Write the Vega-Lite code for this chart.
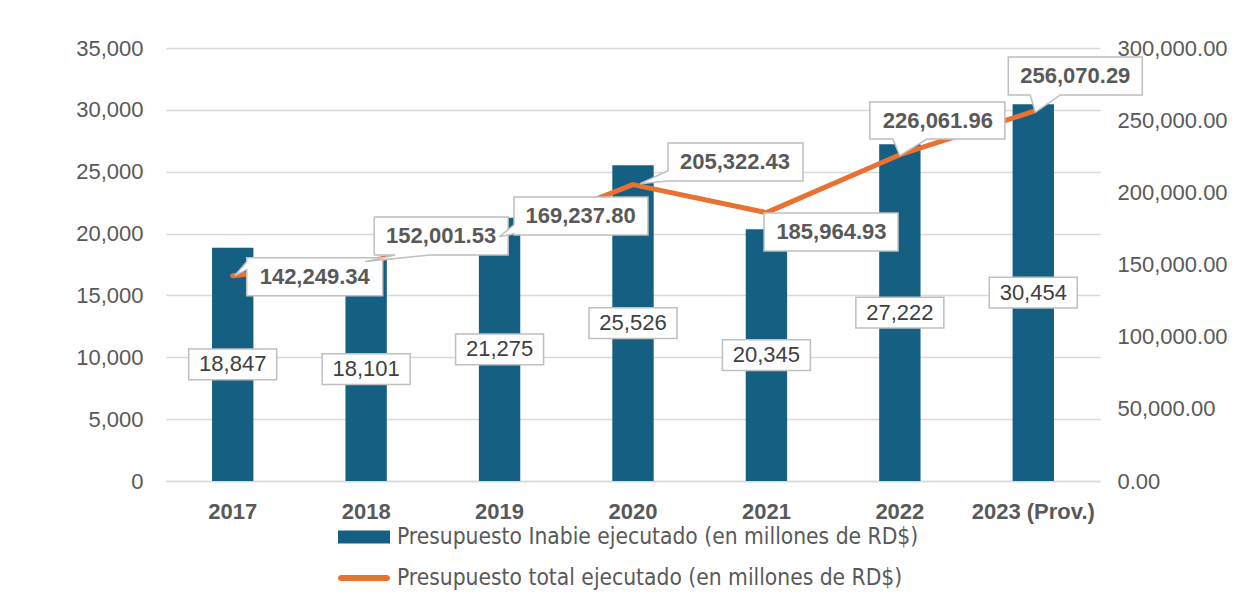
{
  "$schema": "https://vega.github.io/schema/vega-lite/v6.json",
  "width": 934,
  "height": 433,
  "autosize": "none",
  "padding": {"left": 166, "top": 48, "right": 150, "bottom": 132},
  "background": "white",
  "config": {"view": {"stroke": null}, "font": "Liberation Sans"},
  "data": {"values": [
    {"year": "2017", "inabie": 18847, "total": 142249.34},
    {"year": "2018", "inabie": 18101, "total": 152001.53},
    {"year": "2019", "inabie": 21275, "total": 169237.80},
    {"year": "2020", "inabie": 25526, "total": 205322.43},
    {"year": "2021", "inabie": 20345, "total": 185964.93},
    {"year": "2022", "inabie": 27222, "total": 226061.96},
    {"year": "2023 (Prov.)", "inabie": 30454, "total": 256070.29}
  ]},
  "encoding": {
    "x": {
      "field": "year", "type": "nominal", "sort": null,
      "scale": {"paddingInner": 0.69, "paddingOuter": 0.345},
      "axis": {"title": null, "labelAngle": 0, "labelFont": "Liberation Sans", "labelFontWeight": "bold", "labelFontSize": 22, "labelColor": "#595959", "labelPadding": 20, "ticks": false, "domainColor": "#D9D9D9", "domainWidth": 1.5}
    }
  },
  "layer": [
    {
      "mark": {"type": "bar"},
      "encoding": {
        "y": {"field": "inabie", "type": "quantitative", "scale": {"domain": [0, 35000], "nice": false},
          "axis": {"orient": "left", "title": null, "values": [0, 5000, 10000, 15000, 20000, 25000, 30000, 35000], "format": ",.0f", "labelFont": "Liberation Sans", "labelFontSize": 22, "labelColor": "#595959", "labelPadding": 23, "ticks": false, "domain": false, "grid": true, "gridColor": "#D9D9D9", "gridWidth": 1.5}},
        "color": {
          "datum": "Presupuesto Inabie ejecutado (en millones de RD$)",
          "scale": {"domain": ["Presupuesto Inabie ejecutado (en millones de RD$)", "Presupuesto total ejecutado (en millones de RD$)"], "range": ["#156082", "#E97132"]},
          "legend": {
            "orient": "none", "legendX": 172, "legendY": 463, "direction": "vertical", "title": null,
            "labelFont": "DejaVu Sans Condensed", "labelFontSize": 22.6, "labelColor": "#595959", "labelLimit": 0, "labelOffset": 7,
            "symbolSize": 2704, "rowPadding": 3,
            "encode": {"symbols": {"update": {
              "shape": {"signal": "datum.value === 'Presupuesto Inabie ejecutado (en millones de RD$)' ? 'M-1,-0.25H1V0.25H-1Z' : 'M-0.88,-0.12H0.88A0.12,0.12 0 0 1 0.88,0.12H-0.88A0.12,0.12 0 0 1 -0.88,-0.12Z'"},
              "fill": {"scale": "color", "field": "value"},
              "stroke": {"value": "transparent"},
              "strokeWidth": {"value": 0},
              "opacity": {"value": 1}
            }}}
          }
        }
      }
    },
    {
      "encoding": {
        "y": {"field": "inabie", "type": "quantitative", "scale": {"domain": [0, 70000], "nice": false}, "axis": null}
      },
      "layer": [
        {"mark": {"type": "point", "shape": "M-1,-0.35H1V0.35H-1Z", "size": 7744, "filled": true, "fill": "white", "stroke": "#BFBFBF", "strokeWidth": 1.5, "opacity": 1}},
        {"mark": {"type": "text", "font": "Liberation Sans", "fontSize": 22, "fill": "#404040", "baseline": "middle", "align": "center"},
          "encoding": {"text": {"field": "inabie", "type": "quantitative", "format": ",.0f"}}}
      ]
    },
    {
      "encoding": {
        "y": {"field": "total", "type": "quantitative", "scale": {"domain": [0, 300000], "nice": false},
          "axis": {"orient": "right", "title": null, "values": [0, 50000, 100000, 150000, 200000, 250000, 300000], "format": ",.2f", "labelFont": "Liberation Sans", "labelFontSize": 22, "labelColor": "#595959", "labelPadding": 17, "ticks": false, "domain": false, "grid": false}}
      },
      "layer": [
        {"mark": {"type": "line", "strokeWidth": 5, "strokeJoin": "round", "strokeCap": "round"},
          "encoding": {"color": {"datum": "Presupuesto total ejecutado (en millones de RD$)"}}},
        {"mark": {"type": "point", "size": 10000, "filled": true, "fill": "white", "stroke": "#BFBFBF", "strokeWidth": 1.5, "opacity": 1,
          "shape": {"expr": "datum.year=='2017'?'M0.28,-0.36H3V0.4H0.28V-0.12L0.04,0L0.28,-0.28Z':datum.year=='2018'?'M0.16,-0.892H2.84V-0.132H1.28L-0.02,0L0.58,-0.132H0.16Z':datum.year=='2019'?'M0.288,-0.794H2.968V-0.034H0.288V-0.06L0,0L0.288,-0.24Z':datum.year=='2020'?'M0.7,-0.834H3.4V-0.074H0.7L0.14,-0.02L0.7,-0.28Z':datum.year=='2021'?'M-0.048,0.008H2.632V0.768H-0.048Z':datum.year=='2022'?'M-0.6,-1.054H2.1V-0.314H0.54L0,0.02L-0.14,-0.314H-0.6Z':'M-0.5,-1.088H2.18V-0.328H0.54L0.04,0.02L-0.06,-0.328H-0.5Z'"}}},
        {"mark": {"type": "text", "font": "Liberation Sans", "fontWeight": "bold", "fontSize": 22, "fill": "#595959", "baseline": "middle", "align": "center",
          "dx": {"expr": "datum.year=='2017'?82:datum.year=='2018'?75:datum.year=='2019'?81:datum.year=='2020'?102:datum.year=='2021'?65:datum.year=='2022'?38:42"},
          "dy": {"expr": "datum.year=='2017'?1:datum.year=='2018'?-26:datum.year=='2019'?-21:datum.year=='2020'?-23:datum.year=='2021'?19:datum.year=='2022'?-34:-35"}},
          "encoding": {"text": {"field": "total", "type": "quantitative", "format": ",.2f"}}}
      ]
    }
  ],
  "resolve": {"scale": {"y": "independent"}}
}
